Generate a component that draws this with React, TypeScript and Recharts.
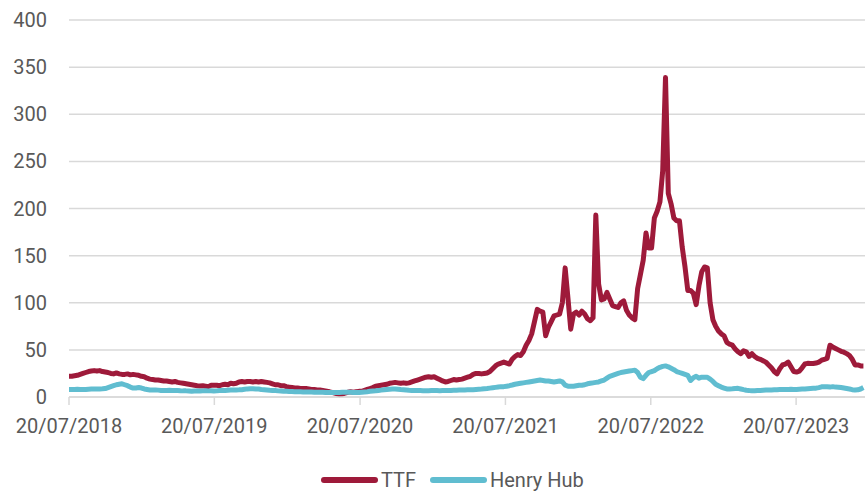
import React from 'react';
import { LineChart, Line, XAxis, YAxis, CartesianGrid, Legend } from 'recharts';

const DAY = 86400000;
const startDate = Date.UTC(2018, 6, 20);
const endDate = startDate + 1999 * DAY;

const ttf = [
  22, 22, 22.5, 23, 24, 25, 26, 27, 27.5, 28,
  27.5, 28, 27, 26.5, 26, 25, 24.5, 25.5, 24.5, 24,
  24, 24.5, 23.5, 24, 23.5, 23, 22, 21.5, 20, 19,
  18.5, 18, 18, 17.5, 17, 17, 16.5, 16, 16.5, 15.5,
  15, 14.5, 14, 13.5, 13, 12.5, 12, 11.7, 12, 11.5,
  11, 12.5, 12.4, 12.5, 12, 13, 13.5, 13, 14.5, 14,
  14.5, 16, 16.5, 16, 16.5, 16.5, 16, 16.5, 16, 16.5,
  16, 15.5, 15, 14, 13, 13, 12, 12, 11, 10.5,
  10, 9.5, 9.5, 9, 9, 9, 8.5, 8, 8, 7.5,
  7.5, 7, 6.5, 6, 5, 4.5, 3.5, 2.5, 3, 4,
  5, 5.5, 5, 5.5, 6, 6, 7, 8, 9, 10,
  11.5, 12, 12.5, 13, 13.5, 14.5, 15, 15.5, 15, 14.5,
  15, 14.5, 15, 16, 17, 18, 19, 20, 21, 21.5,
  21, 21.5, 20, 18.5, 17, 16, 16.5, 17.5, 18.5, 18,
  18.5, 19, 20, 21, 22, 24, 25, 25, 24.5, 25,
  25.5, 27, 30, 33, 35, 36, 37, 36, 35, 40,
  43, 45, 44, 48, 55, 60, 67, 80, 93, 91,
  90, 65, 74, 80, 86, 87, 88, 100, 137, 105,
  72, 88, 90, 87, 91, 88, 83, 81, 84, 193,
  120, 103, 104, 111, 104, 97, 96, 95, 100, 102,
  92, 87, 84, 82, 115, 130, 145, 174, 158, 158,
  190, 197, 207, 240, 339, 216, 205, 190, 187, 187,
  159, 138, 113, 113, 110, 98, 118, 133, 138, 137,
  100, 82, 75, 70, 67, 65, 58, 56, 55, 51,
  48, 46, 49, 48, 43, 46, 43, 41, 40, 38.5,
  37, 34, 31, 27, 24.5, 30, 34, 35, 37, 32,
  27, 26.5, 27.5, 31, 35, 35.7, 35.5, 35.5, 36, 37,
  39, 40, 41, 55, 53, 51.5, 50, 48.5, 47.5, 46,
  44, 40, 34, 34, 33, 33,
];

const henryHub = [
  8, 8, 8, 8.2, 8, 8, 8, 8.3, 8.5, 8.5,
  8.5, 8.5, 8.7, 9, 10, 11, 12, 13, 13.5, 14,
  13, 12, 10.5, 9.5, 9.5, 10, 9.5, 8.5, 8, 7.5,
  7.5, 7.5, 7.3, 7, 7, 7, 7.2, 7, 6.8, 6.8,
  6.6, 6.5, 6.5, 6.4, 6.2, 6.4, 6.5, 6.3, 6.5, 6.7,
  6.5, 6.6, 6.4, 6.5, 6.8, 7, 7, 7.2, 7.4, 7.4,
  7.5, 7.6, 7.8, 8.2, 8.6, 8.8, 8.8, 8.6, 8.4, 8,
  7.8, 7.5, 7.2, 7, 6.8, 6.5, 6.3, 6, 6, 5.8,
  5.8, 5.6, 5.6, 5.5, 5.4, 5.3, 5.2, 5.2, 5, 5,
  5, 5, 4.8, 4.8, 4.7, 4.7, 4.8, 4.8, 5, 5,
  5, 5, 4.8, 4.7, 4.7, 5, 5.3, 5.6, 6, 6.3,
  6.6, 7, 7.3, 7.6, 8, 8.3, 8.5, 8.6, 8.3, 8,
  7.8, 7.5, 7.2, 7, 6.9, 6.8, 6.8, 6.7, 6.7, 6.7,
  6.8, 6.8, 6.8, 6.7, 6.8, 6.9, 7, 7, 7.1, 7.2,
  7.3, 7.4, 7.5, 7.6, 7.7, 7.8, 8, 8.2, 8.4, 8.7,
  9, 9.4, 9.8, 10.2, 10.6, 11, 11, 11.5, 12, 12.7,
  13.5, 14, 14.5, 15, 15.5, 16, 16.5, 17, 17.5, 18,
  17.5, 17, 17, 16.5, 16, 16.5, 17, 16, 12.5, 11.5,
  11.5, 11.5, 12, 12.5, 12.5, 13, 14, 14.5, 15, 15.5,
  16, 17, 18, 20, 22, 23, 24, 25, 26, 26.5,
  27, 27.5, 28, 28.5, 26, 21, 19.5, 23, 26, 27,
  28, 30, 31.5, 32.5, 33, 32, 30.5, 29, 27, 26,
  25, 24, 23, 17.5, 20.5, 22, 20, 21, 21, 21,
  19, 16.5, 13.5, 12, 10.5, 9.5, 8.5, 8.5, 8.7, 9,
  9.2, 8.5, 7.8, 7.2, 6.8, 6.7, 6.6, 6.8, 7, 7.2,
  7.4, 7.3, 7.4, 7.6, 7.8, 8, 8, 7.9, 8, 8.1,
  8, 8, 8.2, 8.4, 8.6, 8.8, 9, 9.2, 9.4, 10,
  10.8, 11, 10.8, 10.5, 11, 10.5, 10.4, 10, 9.5, 9,
  8.5, 7.8, 7.4, 7.6, 8.5, 10,
];

const yTicks = [0, 50, 100, 150, 200, 250, 300, 350, 400];
const xTickYears = [2018, 2019, 2020, 2021, 2022, 2023];
const xTicks = xTickYears.map((y) => Date.UTC(y, 6, 20));
const weekDates = ttf.map((_, i) => startDate + i * 7 * DAY);

const data = weekDates.map((d, i) => ({ date: d, TTF: ttf[i], HH: henryHub[i] }));

const TTF_COLOR = '#9E1A3A';
const HH_COLOR = '#60BDD0';
const TEXT = '#595959';
const GRID = '#D9D9D9';
const FONT = 'Roboto, "DejaVu Sans", sans-serif';

const pad = (n: number) => (n < 10 ? '0' + n : '' + n);
const fmtDate = (t: number) => {
  const d = new Date(t);
  return `${pad(d.getUTCDate())}/${pad(d.getUTCMonth() + 1)}/${d.getUTCFullYear()}`;
};

const legendItems = [
  { name: 'TTF', color: TTF_COLOR, left: 321 },
  { name: 'Henry Hub', color: HH_COLOR, left: 430 },
];

const renderLegend = () => (
  <div style={{ position: 'relative', height: 26, width: 865 }}>
    {legendItems.map((it) => (
      <div
        key={it.name}
        style={{ position: 'absolute', left: it.left, top: 0, height: 26, display: 'flex', alignItems: 'center' }}
      >
        <div style={{ width: 57, height: 6, borderRadius: 3, background: it.color }} />
        <span style={{ marginLeft: 3, fontSize: 20, fontFamily: FONT, color: TEXT, lineHeight: '26px' }}>
          {it.name}
        </span>
      </div>
    ))}
  </div>
);

export default function App() {
  const tickStyle = { fill: TEXT, fontSize: 20, fontFamily: FONT };
  return (
    <div style={{ position: 'absolute', left: 0, top: 0, width: 865, height: 493, background: '#fff' }}>
      <LineChart
        width={865}
        height={493}
        data={data}
        margin={{ top: 20, right: 0, left: 0, bottom: 20 }}
        style={{ fontFamily: FONT }}
      >
        <CartesianGrid vertical={false} stroke={GRID} strokeWidth={1.5} />
        <XAxis
          dataKey="date"
          type="number"
          domain={[startDate, endDate]}
          ticks={xTicks}
          tickFormatter={fmtDate}
          interval={0}
          allowDataOverflow
          axisLine={{ stroke: GRID, strokeWidth: 1.5 }}
          tickLine={{ stroke: GRID, strokeWidth: 1.5 }}
          tickSize={8}
          tickMargin={14}
          height={50}
          tick={tickStyle}
        />
        <YAxis
          domain={[0, 400]}
          ticks={yTicks}
          axisLine={false}
          tickLine={false}
          tickSize={0}
          tickMargin={22}
          width={69}
          tick={tickStyle}
          interval={0}
        />
        <Legend
          verticalAlign="bottom"
          content={renderLegend}
          wrapperStyle={{ top: 467, left: 0, bottom: 'auto', width: 865, height: 26 }}
        />
        <Line
          type="linear"
          dataKey="TTF"
          name="TTF"
          stroke={TTF_COLOR}
          strokeWidth={5}
          strokeLinejoin="round"
          dot={false}
          activeDot={false}
          isAnimationActive={false}
        />
        <Line
          type="linear"
          dataKey="HH"
          name="Henry Hub"
          stroke={HH_COLOR}
          strokeWidth={5}
          strokeLinejoin="round"
          dot={false}
          activeDot={false}
          isAnimationActive={false}
        />
      </LineChart>
    </div>
  );
}
